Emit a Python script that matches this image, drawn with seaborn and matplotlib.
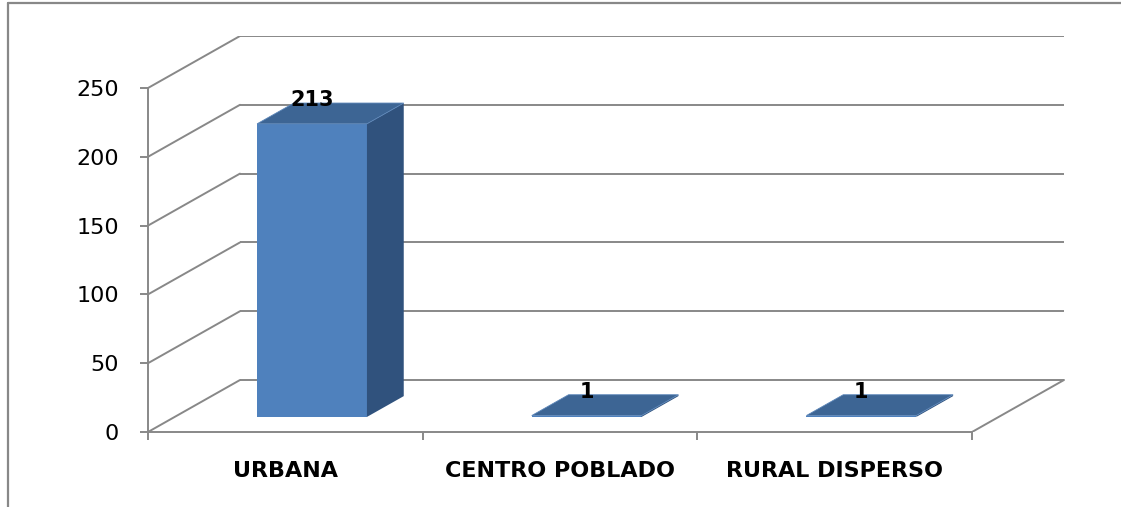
import matplotlib
matplotlib.use("Agg")
import matplotlib.pyplot as plt
import seaborn as sns
import numpy as np
from matplotlib.patches import Polygon
from matplotlib.lines import Line2D
from matplotlib.transforms import Affine2D

# ---- data ----
categories = ["URBANA", "CENTRO POBLADO", "RURAL DISPERSO"]
values = [213, 1, 1]
yticks = [0, 50, 100, 150, 200, 250]

# ---- style ----
sns.set_theme(style="white")
plt.rcParams['font.family'] = ['DejaVu Sans']

W, H, DPI = 1121, 507, 100
fig = plt.figure(figsize=(W / DPI, H / DPI), dpi=DPI)
fig.patch.set_facecolor("white")

# axes covers front plane plus depth extension
ax = fig.add_axes([148 / W, 75 / H, 920 / W, 396 / H])
ax.patch.set_alpha(0)

FRONT_COLOR = "#4F81BD"
TOP_COLOR = "#3D6594"
SIDE_COLOR = "#30527D"
GRID = "#888888"

sns.barplot(x=categories, y=values, ax=ax, color=FRONT_COLOR, width=0.4,
            saturation=1, errorbar=None, zorder=3)

XMIN, XMAX_FRONT = -0.5, 2.5
px_per_x = 824 / 3.0
px_per_y = 344 / 250.0
DX = 92 / px_per_x
DY = 52 / px_per_y
ax.set_xlim(XMIN, XMIN + 920 / px_per_x)
ax.set_ylim(0, 396 / px_per_y)

# back wall gridlines and left wall diagonals
for v in yticks:
    ax.plot([XMIN + DX, XMAX_FRONT + DX], [v + DY, v + DY], color=GRID, lw=1.4,
            zorder=1, solid_capstyle="butt")
    ax.plot([XMIN, XMIN + DX], [v, v + DY], color=GRID, lw=1.4, zorder=1)
# floor right edge
ax.plot([XMAX_FRONT, XMAX_FRONT + DX], [0, DY], color=GRID, lw=1.4, zorder=1)

# 3D faces of the bars
d0, dd = 0.29, 0.40
for p, v in zip(ax.patches, values):
    p.set_transform(Affine2D().translate(DX * d0, DY * d0) + ax.transData)
    p.set_edgecolor("none")
    x0 = p.get_x() + DX * d0
    w = p.get_width()
    h = p.get_height()
    y0 = DY * d0
    bdx, bdy = DX * dd, DY * dd
    side = Polygon([(x0 + w, y0), (x0 + w + bdx, y0 + bdy),
                    (x0 + w + bdx, y0 + h + bdy), (x0 + w, y0 + h)],
                   closed=True, facecolor=SIDE_COLOR, edgecolor="none", zorder=3)
    top = Polygon([(x0, y0 + h), (x0 + w, y0 + h),
                   (x0 + w + bdx, y0 + h + bdy), (x0 + bdx, y0 + h + bdy)],
                  closed=True, facecolor=TOP_COLOR, edgecolor="#5B85B8",
                  lw=0.6, zorder=4)
    ax.add_patch(side)
    ax.add_patch(top)
    ax.text(x0 + w / 2, y0 + h + bdy + 2, str(v), ha="center", va="center",
            fontsize=15, fontweight="bold", color="black", zorder=5)

# spines
for s in ["top", "right"]:
    ax.spines[s].set_visible(False)
ax.spines["left"].set_bounds(0, 250)
ax.spines["bottom"].set_bounds(XMIN, XMAX_FRONT)
for s in ["left", "bottom"]:
    ax.spines[s].set_color(GRID)
    ax.spines[s].set_linewidth(1.4)
    ax.spines[s].set_zorder(2)

ax.set_yticks(yticks)
ax.set_yticklabels([str(t) for t in yticks])
ax.tick_params(axis="y", length=6, width=1.4, color=GRID, pad=15,
               labelsize=16, labelcolor="black", direction="out", left=True)

ax.set_xticks([-0.5, 0.5, 1.5, 2.5])
ax.set_xticklabels([])
ax.set_xticks([0, 1, 2], minor=True)
ax.set_xticklabels(categories, minor=True, fontweight="bold", fontsize=16)
ax.tick_params(axis="x", which="major", length=6, width=1.4, color=GRID,
               direction="out", bottom=True)
ax.tick_params(axis="x", which="minor", length=0, pad=21, labelcolor="black")
ax.set_xlabel("")
ax.set_ylabel("")

# outer chart frame
fig.add_artist(Line2D([8 / W, 8 / W], [0, 1 - 3 / H], transform=fig.transFigure,
                      color=GRID, lw=1.6))
fig.add_artist(Line2D([8 / W, 1], [1 - 3 / H, 1 - 3 / H], transform=fig.transFigure,
                      color=GRID, lw=1.6))

fig.savefig("out.png", dpi=DPI)
